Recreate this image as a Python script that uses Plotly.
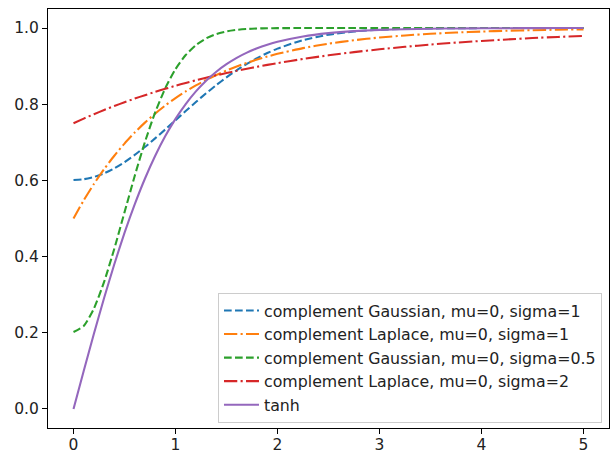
import plotly.graph_objects as go

x = [0.0, 0.1, 0.2, 0.3, 0.4, 0.5, 0.6, 0.7, 0.8, 0.9, 1.0, 1.1, 1.2, 1.3, 1.4, 1.5, 1.6, 1.7, 1.8, 1.9, 2.0,
     2.25, 2.5, 2.75, 3.0, 3.25, 3.5, 3.75, 4.0, 4.25, 4.5, 4.75, 5.0]

gauss_s1 = [0.6011, 0.6031, 0.6090, 0.6186, 0.6317, 0.6479, 0.6668, 0.6877, 0.7103, 0.7339, 0.7580,
            0.7822, 0.8058, 0.8286, 0.8503, 0.8705, 0.8891, 0.9059, 0.9211, 0.9344, 0.9460,
            0.9683, 0.9825, 0.9909, 0.9956, 0.9980, 0.9991, 0.9996, 0.9999, 0.99995, 0.99998, 0.99999, 1.0]

laplace_s1 = [0.5, 0.5476, 0.5906, 0.6296, 0.6648, 0.6967, 0.7256, 0.7517, 0.7753, 0.7967, 0.8161,
              0.8336, 0.8494, 0.8637, 0.8767, 0.8884, 0.8991, 0.9087, 0.9174, 0.9252, 0.9323,
              0.9473, 0.9590, 0.9680, 0.9751, 0.9806, 0.9849, 0.9882, 0.9908, 0.9929, 0.9944, 0.9957, 0.9966]

gauss_s05 = [0.2021, 0.2179, 0.2635, 0.3336, 0.4206, 0.5161, 0.6116, 0.7005, 0.7782, 0.8421, 0.8920,
             0.9291, 0.9552, 0.9728, 0.9842, 0.9911, 0.9952, 0.9975, 0.9988, 0.9994, 0.9997,
             1.0, 1.0, 1.0, 1.0, 1.0, 1.0, 1.0, 1.0, 1.0, 1.0, 1.0, 1.0]

laplace_s2 = [0.75, 0.7622, 0.7738, 0.7848, 0.7953, 0.8053, 0.8148, 0.8238, 0.8324, 0.8406, 0.8484,
              0.8558, 0.8628, 0.8695, 0.8759, 0.8819, 0.8877, 0.8931, 0.8984, 0.9033, 0.9080,
              0.9188, 0.9284, 0.9368, 0.9442, 0.9508, 0.9566, 0.9617, 0.9662, 0.9701, 0.9737, 0.9767, 0.9795]

tanh_v = [0.0, 0.0997, 0.1974, 0.2913, 0.3799, 0.4621, 0.5370, 0.6044, 0.6640, 0.7163, 0.7616,
          0.8005, 0.8337, 0.8617, 0.8854, 0.9051, 0.9217, 0.9354, 0.9468, 0.9562, 0.9640,
          0.9780, 0.9866, 0.9919, 0.9951, 0.9970, 0.9982, 0.9989, 0.9993, 0.9996, 0.9998, 0.9999, 0.9999]

names = ["complement Gaussian, mu=0, sigma=1",
         "complement Laplace, mu=0, sigma=1",
         "complement Gaussian, mu=0, sigma=0.5",
         "complement Laplace, mu=0, sigma=2",
         "tanh"]
series = [gauss_s1, laplace_s1, gauss_s05, laplace_s2, tanh_v]
colors = ["#1f77b4", "#ff7f0e", "#2ca02c", "#d62728", "#9467bd"]
DASHED = "7.7px,3.3px"
DASHDOT = "13.3px,3.3px,2.1px,3.3px"
dashes = [DASHED, DASHDOT, DASHED, DASHDOT, "solid"]

fig = go.Figure()
for i, (nm, ys, c, d) in enumerate(zip(names, series, colors, dashes)):
    fig.add_trace(go.Scatter(
        x=x, y=ys, mode="lines", name=nm, legendgroup=f"g{i}",
        line=dict(color=c, width=2.08, dash=d, shape="spline", smoothing=0.6),
    ))

FONT = dict(family="DejaVu Sans", size=15.5, color="#222")
LEGEND_FONT = dict(family="DejaVu Sans", size=15.8, color="#222")

axis_common = dict(
    showline=True, linecolor="black", linewidth=1, mirror=True,
    ticks="outside", ticklen=5, tickwidth=1, tickcolor="black",
    showgrid=False, zeroline=False, automargin=False,
    tickfont=FONT,
)

fig.update_layout(
    width=610, height=451,
    margin=dict(l=48, r=1, t=9, b=23),
    paper_bgcolor="white", plot_bgcolor="white",
    font=FONT,
    xaxis=dict(range=[-0.25, 5.25], tickvals=[0, 1, 2, 3, 4, 5], ticklabelstandoff=-3, **axis_common),
    yaxis=dict(range=[-0.05, 1.05], tickvals=[0, 0.2, 0.4, 0.6, 0.8, 1.0], tickformat=".1f", **axis_common),
    legend=dict(
        x=0.9875, y=0.0125, xanchor="right", yanchor="bottom",
        bgcolor="rgba(255,255,255,0.8)", bordercolor="#cccccc", borderwidth=1,
        font=LEGEND_FONT,
        tracegroupgap=0, itemwidth=35,
    ),
    showlegend=True,
)

fig.write_html(
    "out.html",
    config={"displayModeBar": False},
    post_script="document.body.style.margin='0';document.body.style.overflow='hidden';",
)
